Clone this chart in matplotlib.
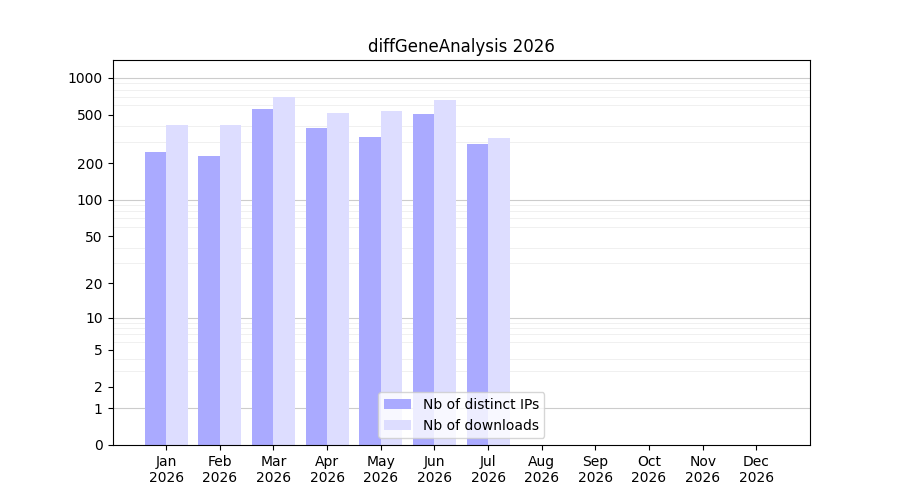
import numpy as np
import matplotlib
matplotlib.use("Agg")
import matplotlib.pyplot as plt
from matplotlib.ticker import FixedLocator

months = ["Jan", "Feb", "Mar", "Apr", "May", "Jun", "Jul", "Aug", "Sep", "Oct", "Nov", "Dec"]
year = "2026"
distinct_ips = [247, 229, 557, 389, 328, 507, 288]
downloads = [412, 410, 698, 516, 537, 661, 322]

fig, ax = plt.subplots(figsize=(9, 5), dpi=100)
ax.set_yscale("function", functions=(lambda v: np.log10(1 + np.clip(v, 0, None)),
                                     lambda v: 10 ** v - 1))

x = np.arange(len(distinct_ips))
ax.bar(x - 0.2, distinct_ips, width=0.4, color="#aaaaff", label="Nb of distinct IPs", zorder=2)
ax.bar(x + 0.2, downloads, width=0.4, color="#ddddff", label="Nb of downloads", zorder=2)

ax.set_xticks(np.arange(12))
ax.set_xticklabels([f"{m}\n{year}" for m in months])
ax.set_xlim(-1, 12)

major = [0, 1, 2, 5, 10, 20, 50, 100, 200, 500, 1000]
ax.yaxis.set_major_locator(FixedLocator(major))
ax.set_yticklabels([str(v) for v in major])
minor = [m * 10 ** d for d in range(0, 4) for m in range(2, 10)]
ax.yaxis.set_minor_locator(FixedLocator(minor))
ax.tick_params(axis="y", which="minor", length=0)
ax.set_ylim(0, 1400)
for v in [1, 10, 100, 1000]:
    ax.axhline(v, color="#cccccc", linewidth=0.8, zorder=1)
ax.grid(True, axis="y", which="minor", color="#eeeeee", linewidth=0.6, zorder=0)

ax.set_title("diffGeneAnalysis 2026")
ax.legend(loc="lower center")
fig.savefig("out.png")
